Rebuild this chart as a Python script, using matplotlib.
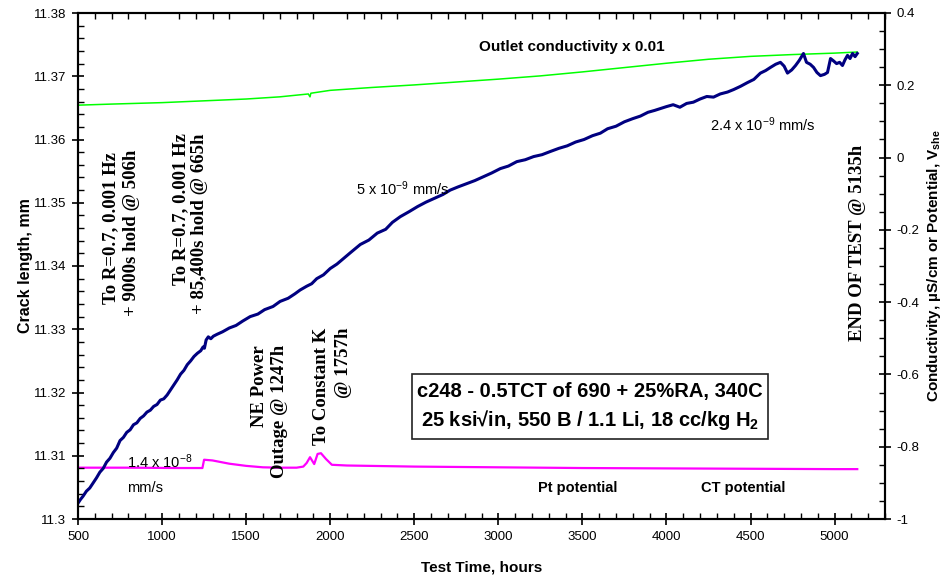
import matplotlib
matplotlib.use("Agg")
from matplotlib import pyplot as plt
from matplotlib.patches import Rectangle
from matplotlib.ticker import MultipleLocator, FuncFormatter

plt.rcParams['font.family'] = ['Liberation Sans', 'DejaVu Sans']
plt.rcParams['mathtext.fontset'] = 'custom'
plt.rcParams['mathtext.rm'] = 'Liberation Sans'
plt.rcParams['mathtext.it'] = 'Liberation Sans:italic'
plt.rcParams['mathtext.bf'] = 'Liberation Sans:bold'

# crack length vs test time
crack_hours = [500, 515, 530, 550, 570, 590, 610, 630, 650, 670, 690, 710, 730, 750,
               770, 790, 810, 830, 850, 870, 890, 910, 930, 950, 970, 990, 1010, 1030,
               1050, 1070, 1090, 1110, 1130, 1150, 1170, 1190, 1210, 1230, 1244, 1252,
               1262, 1275, 1290, 1305, 1327, 1360, 1400, 1440, 1480, 1524, 1570, 1610,
               1660, 1702, 1750, 1790, 1821, 1860, 1890, 1920, 1960, 2000, 2040, 2080,
               2120, 2179, 2230, 2280, 2330, 2370, 2417, 2470, 2520, 2570, 2620, 2670,
               2714, 2760, 2810, 2860, 2910, 2960, 3012, 3060, 3110, 3160, 3210, 3260,
               3309, 3360, 3410, 3460, 3510, 3560, 3607, 3650, 3700, 3750, 3800, 3845,
               3890, 3930, 3964, 4000, 4040, 4080, 4120, 4160, 4200, 4240, 4280, 4320,
               4363, 4400, 4440, 4482, 4520, 4559, 4590, 4619, 4650, 4678, 4700, 4720,
               4745, 4768, 4790, 4815, 4833, 4855, 4875, 4895, 4916, 4940, 4958, 4976,
               4995, 5012, 5030, 5047, 5062, 5077, 5092, 5107, 5122, 5135]
crack_mm = [11.3025, 11.3031, 11.3036, 11.3044, 11.3049, 11.3057, 11.3065, 11.3074, 11.3080,
            11.3090, 11.3096, 11.3105, 11.3112, 11.3124, 11.3129, 11.3137, 11.3141, 11.3149,
            11.3152, 11.3159, 11.3163, 11.3169, 11.3172, 11.3178, 11.3181, 11.3188, 11.3190,
            11.3196, 11.3204, 11.3212, 11.3220, 11.3229, 11.3235, 11.3244, 11.3250, 11.3257,
            11.3262, 11.3266, 11.3272, 11.3270, 11.3283, 11.3288, 11.3285, 11.3289, 11.3292,
            11.3296, 11.3302, 11.3306, 11.3313, 11.3320, 11.3324, 11.3331, 11.3336, 11.3344,
            11.3349, 11.3356, 11.3362, 11.3368, 11.3372, 11.3380, 11.3386, 11.3396, 11.3403,
            11.3412, 11.3421, 11.3434, 11.3441, 11.3452, 11.3458, 11.3469, 11.3478, 11.3486,
            11.3494, 11.3501, 11.3507, 11.3513, 11.3520, 11.3525, 11.3530, 11.3535, 11.3541,
            11.3547, 11.3554, 11.3558, 11.3565, 11.3568, 11.3573, 11.3576, 11.3581, 11.3586,
            11.3590, 11.3596, 11.3600, 11.3606, 11.3610, 11.3617, 11.3621, 11.3628, 11.3633,
            11.3637, 11.3643, 11.3646, 11.3649, 11.3652, 11.3655, 11.3651, 11.3657, 11.3659,
            11.3664, 11.3668, 11.3667, 11.3672, 11.3675, 11.3679, 11.3684, 11.3690, 11.3695,
            11.3705, 11.3709, 11.3714, 11.3719, 11.3722, 11.3716, 11.3705, 11.3710, 11.3717,
            11.3725, 11.3736, 11.3722, 11.3719, 11.3714, 11.3706, 11.3701, 11.3703, 11.3706,
            11.3728, 11.3724, 11.3720, 11.3722, 11.3717, 11.3726, 11.3733, 11.3728, 11.3736,
            11.3731, 11.3736]

# outlet conductivity (x 0.01), right axis
cond_hours = [500, 700, 1000, 1250, 1500, 1700, 1870, 1880, 1885, 2000, 2250, 2500,
              2750, 3000, 3250, 3500, 3750, 4000, 4250, 4500, 4750, 5000, 5135]
cond_val = [0.145, 0.148, 0.152, 0.157, 0.162, 0.168, 0.176, 0.168, 0.178, 0.186, 0.194,
            0.201, 0.209, 0.217, 0.226, 0.237, 0.249, 0.261, 0.272, 0.280, 0.285, 0.289, 0.292]

# Pt / CT potential, right axis
pot_hours = [500, 800, 1100, 1240, 1250, 1300, 1400, 1500, 1600, 1700, 1800, 1840, 1860,
             1880, 1905, 1925, 1945, 1975, 2010, 2100, 2500, 3000, 3500, 4000, 4500, 5000, 5135]
pot_val = [-0.858, -0.858, -0.859, -0.859, -0.836, -0.838, -0.847, -0.853, -0.857, -0.858,
           -0.858, -0.855, -0.845, -0.829, -0.848, -0.820, -0.818, -0.834, -0.850, -0.852,
           -0.855, -0.857, -0.859, -0.860, -0.861, -0.862, -0.862]

fig = plt.figure(figsize=(9.43, 5.81), dpi=100)
ax = fig.add_axes([78/943, 62/581, 807/943, 506/581])
ax2 = ax.twinx()
ax.set_zorder(ax2.get_zorder() + 1)
ax.patch.set_visible(False)

ax2.plot(cond_hours, cond_val, color="#00ff00", linewidth=1.1)
ax2.plot(pot_hours, pot_val, color="#ff00ff", linewidth=1.6)
ax.plot(crack_hours, crack_mm, color="#000080", linewidth=2.2)

ax.set_xlim(500, 5300)
ax.set_ylim(11.30, 11.38)
ax2.set_ylim(-1, 0.4)

ax.xaxis.set_major_locator(MultipleLocator(500))
ax.xaxis.set_minor_locator(MultipleLocator(100))
ax.yaxis.set_major_locator(MultipleLocator(0.01))
ax.yaxis.set_minor_locator(MultipleLocator(0.002))
ax2.yaxis.set_major_locator(MultipleLocator(0.2))
ax2.yaxis.set_minor_locator(MultipleLocator(0.05))

fmt = FuncFormatter(lambda v, p: "%g" % round(v, 4) if abs(v) > 1e-9 else "0")
ax.yaxis.set_major_formatter(fmt)
ax2.yaxis.set_major_formatter(fmt)
ax.xaxis.set_major_formatter(FuncFormatter(lambda v, p: "%d" % v))

for a in (ax, ax2):
    a.tick_params(which="major", direction="inout", length=9, width=1.2, labelsize=9.5, pad=4)
    a.tick_params(which="minor", direction="in", length=4.5, width=1)
ax.tick_params(which="both", top=True, right=False)
ax.tick_params(axis="x", which="major", top=False)
ax.tick_params(axis="x", which="minor", top=True)
for a in (ax, ax2):
    for s in a.spines.values():
        s.set_linewidth(1.5)

ax.set_xlabel("Test Time, hours", fontsize=11, fontweight="bold")
ax.xaxis.set_label_coords(0.5, -0.082)
ax.set_ylabel("Crack length, mm", fontsize=11.5, fontweight="bold")
ax.yaxis.set_label_coords(-0.056, 0.5)
ax2.set_ylabel(r"Conductivity, µS/cm or Potential, V$_{\mathbf{she}}$", fontsize=11, fontweight="bold")
ax2.yaxis.set_label_coords(1.049, 0.5)

tr = ax.transAxes
ax.text(0.612, 0.933, "Outlet conductivity x 0.01", transform=tr, ha="center", va="center",
        fontsize=11, fontweight="bold")
ax.text(0.848, 0.779, r"2.4 x 10$^{-9}$ mm/s", transform=tr, ha="center", va="center", fontsize=10.5)
ax.text(0.402, 0.652, r"5 x 10$^{-9}$ mm/s", transform=tr, ha="center", va="center", fontsize=10.5)
ax.text(0.061, 0.113, r"1.4 x 10$^{-8}$", transform=tr, ha="left", va="center", fontsize=10.5)
ax.text(0.061, 0.061, "mm/s", transform=tr, ha="left", va="center", fontsize=10.5)
ax.text(0.6196, 0.0613, "Pt potential", transform=tr, ha="center", va="center",
        fontsize=10.5, fontweight="bold")
ax.text(0.824, 0.0613, "CT potential", transform=tr, ha="center", va="center",
        fontsize=10.5, fontweight="bold")

# vertical event notes (serif bold), top aligned lines
serif = dict(family=["Liberation Serif", "DejaVu Serif"], fontweight="bold", fontsize=13.5,
             rotation=90, ha="center", va="top", transform=tr)
notes = [
    (111, 152, "To R=0.7, 0.001 Hz"),
    (131, 150, "+ 9000s hold @ 506h"),
    (181, 133, "To R=0.7, 0.001 Hz"),
    (200, 133, "+ 85,400s hold @ 665h"),
    (260, 345, "NE Power"),
    (280, 345, "Outage @ 1247h"),
    (322, 328, "To Constant K"),
    (343, 328, "@ 1757h"),
    (857, 145, "END OF TEST @ 5135h"),
]
for px, py, s in notes:
    ax.text((px - 78) / 807, (519 - py) / 506, s, **serif)

ax.add_patch(Rectangle((0.414, 0.158), 0.441, 0.1286, transform=tr, fill=False,
                       edgecolor="#222222", linewidth=1.2))
ax.text(0.634, 0.251, "c248 - 0.5TCT of 690 + 25%RA, 340C", transform=tr, ha="center",
        va="center", fontsize=14.5, fontweight="bold")
ax.text(0.634, 0.196, r"25 ksi√in, 550 B / 1.1 Li, 18 cc/kg H$_\mathbf{2}$", transform=tr,
        ha="center", va="center", fontsize=14.5, fontweight="bold")

fig.savefig("out.png", dpi=100)
